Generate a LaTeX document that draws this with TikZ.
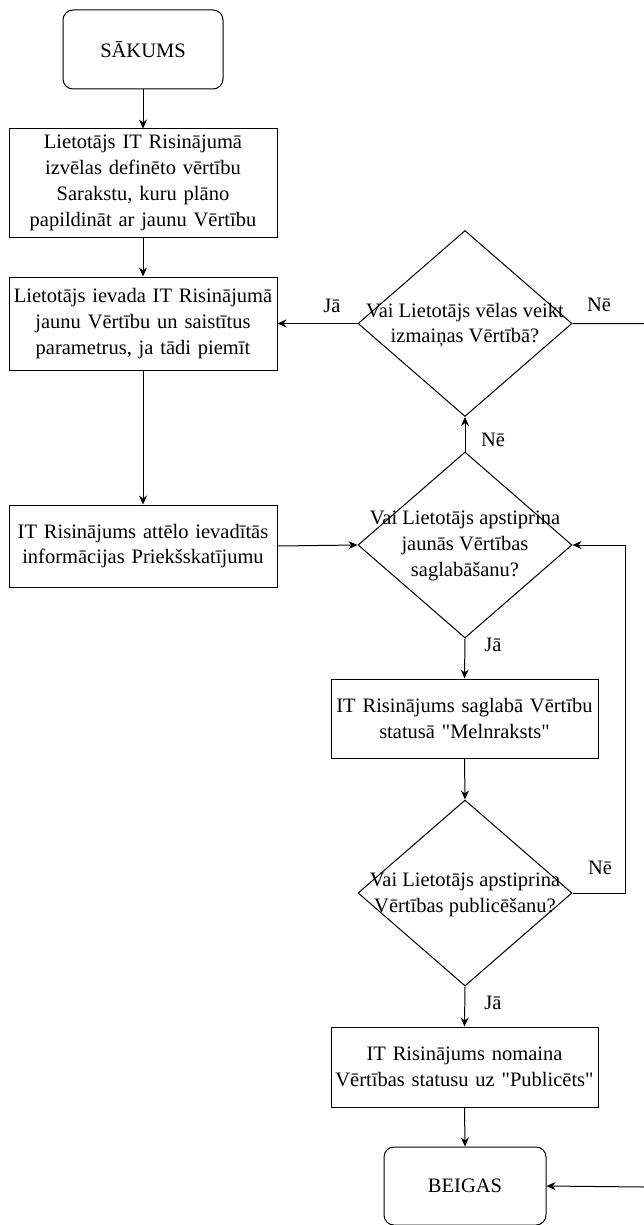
\documentclass[tikz,border=0pt]{standalone}
\usepackage{fontspec}
\setmainfont{Liberation Serif}
\usetikzlibrary{shapes.geometric,arrows.meta}
\newcommand\sdq{\XeTeXglyph\XeTeXglyphindex "quotedbl"\relax}
\begin{document}
\begin{tikzpicture}[x=1pt,y=-1pt,
  every node/.style={font=\fontsize{20.5}{25.8}\selectfont},
  box/.style={draw,line width=1pt,inner xsep=2pt,inner ysep=0pt,align=center},
  term/.style={box,rounded corners=10pt},
  dia/.style={draw,diamond,line width=1pt,inner sep=0pt,minimum width=214pt,minimum height=186pt},
  dtext/.style={align=center,inner sep=0pt},
  lbl/.style={inner sep=0pt},
  ar/.style={-{Stealth[length=9pt,width=8pt]},line width=1pt},
  ln/.style={line width=1pt}]
\useasboundingbox (0,0) rectangle (644,1225);
\node[term,minimum width=160pt,minimum height=79pt] (start) at (143,49.5) {SĀKUMS};
\node[box,text width=264pt,minimum height=108pt] (b1) at (143,183) {Lietotājs IT Risinājumā\\izvēlas definēto vērtību\\Sarakstu, kuru plāno\\papildināt ar jaunu Vērtību};
\node[box,text width=264pt,minimum height=93pt] (b2) at (143,323.5) {Lietotājs ievada IT Risinājumā\\jaunu Vērtību un saistītus\\parametrus, ja tādi piemīt};
\node[box,text width=264pt,minimum height=82pt] (b3) at (143,546) {IT Risinājums attēlo ievadītās\\informācijas Priekšskatījumu};
\node[dia] (d1) at (465,323.5) {};
\node[dtext] (d1t) at (465,325) {Vai Lietotājs vēlas veikt\\izmaiņas Vērtībā?};
\node[dia] (d2) at (465,545) {};
\node[dtext] (d2t) at (465,546) {Vai Lietotājs apstiprina\\jaunās Vērtības\\saglabāšanu?};
\node[box,text width=263pt,minimum height=79pt] (b4) at (464.5,718.5) {IT Risinājums saglabā Vērtību\\statusā \sdq Melnraksts\sdq};
\node[dia] (d3) at (465,893) {};
\node[dtext] (d3t) at (465,895) {Vai Lietotājs apstiprina\\Vērtības publicēšanu?};
\node[box,text width=263pt,minimum height=80pt] (b5) at (464.5,1067) {IT Risinājums nomaina\\Vērtības statusu uz \sdq Publicēts\sdq};
\node[term,minimum width=162pt,minimum height=78pt] (end) at (465,1186) {BEIGAS};
\coordinate (r1) at (645,323.5);
\coordinate (r2) at (645,1187);
\coordinate (q1) at (625,893);
\coordinate (q2) at (625,545);
\draw[ar] (start) -- (b1);
\draw[ar] (b1) -- (b2);
\draw[ar] (b2) -- (b3);
\draw[ar] (b3.east) -- (d2.west);
\draw[ar] (d2.north) -- (d1.south);
\draw[ar] (d1.west) -- (b2.east);
\draw[ar] (d1.east) -- (r1) -- (r2) -- (end.east);
\draw[ar] (d2.south) -- (b4.north);
\draw[ar] (b4.south) -- (d3.north);
\draw[ar] (d3.east) -- (q1) -- (q2) -- (d2.east);
\draw[ar] (d3.south) -- (b5.north);
\draw[ar] (b5.south) -- (end.north);
\node[lbl] (l1) at (332,306) {Jā};
\node[lbl] (l2) at (599,305) {Nē};
\node[lbl] (l3) at (493,440) {Nē};
\node[lbl] (l4) at (493,645) {Jā};
\node[lbl] (l5) at (600,868) {Nē};
\node[lbl] (l6) at (493,1003) {Jā};
\end{tikzpicture}
\end{document}
